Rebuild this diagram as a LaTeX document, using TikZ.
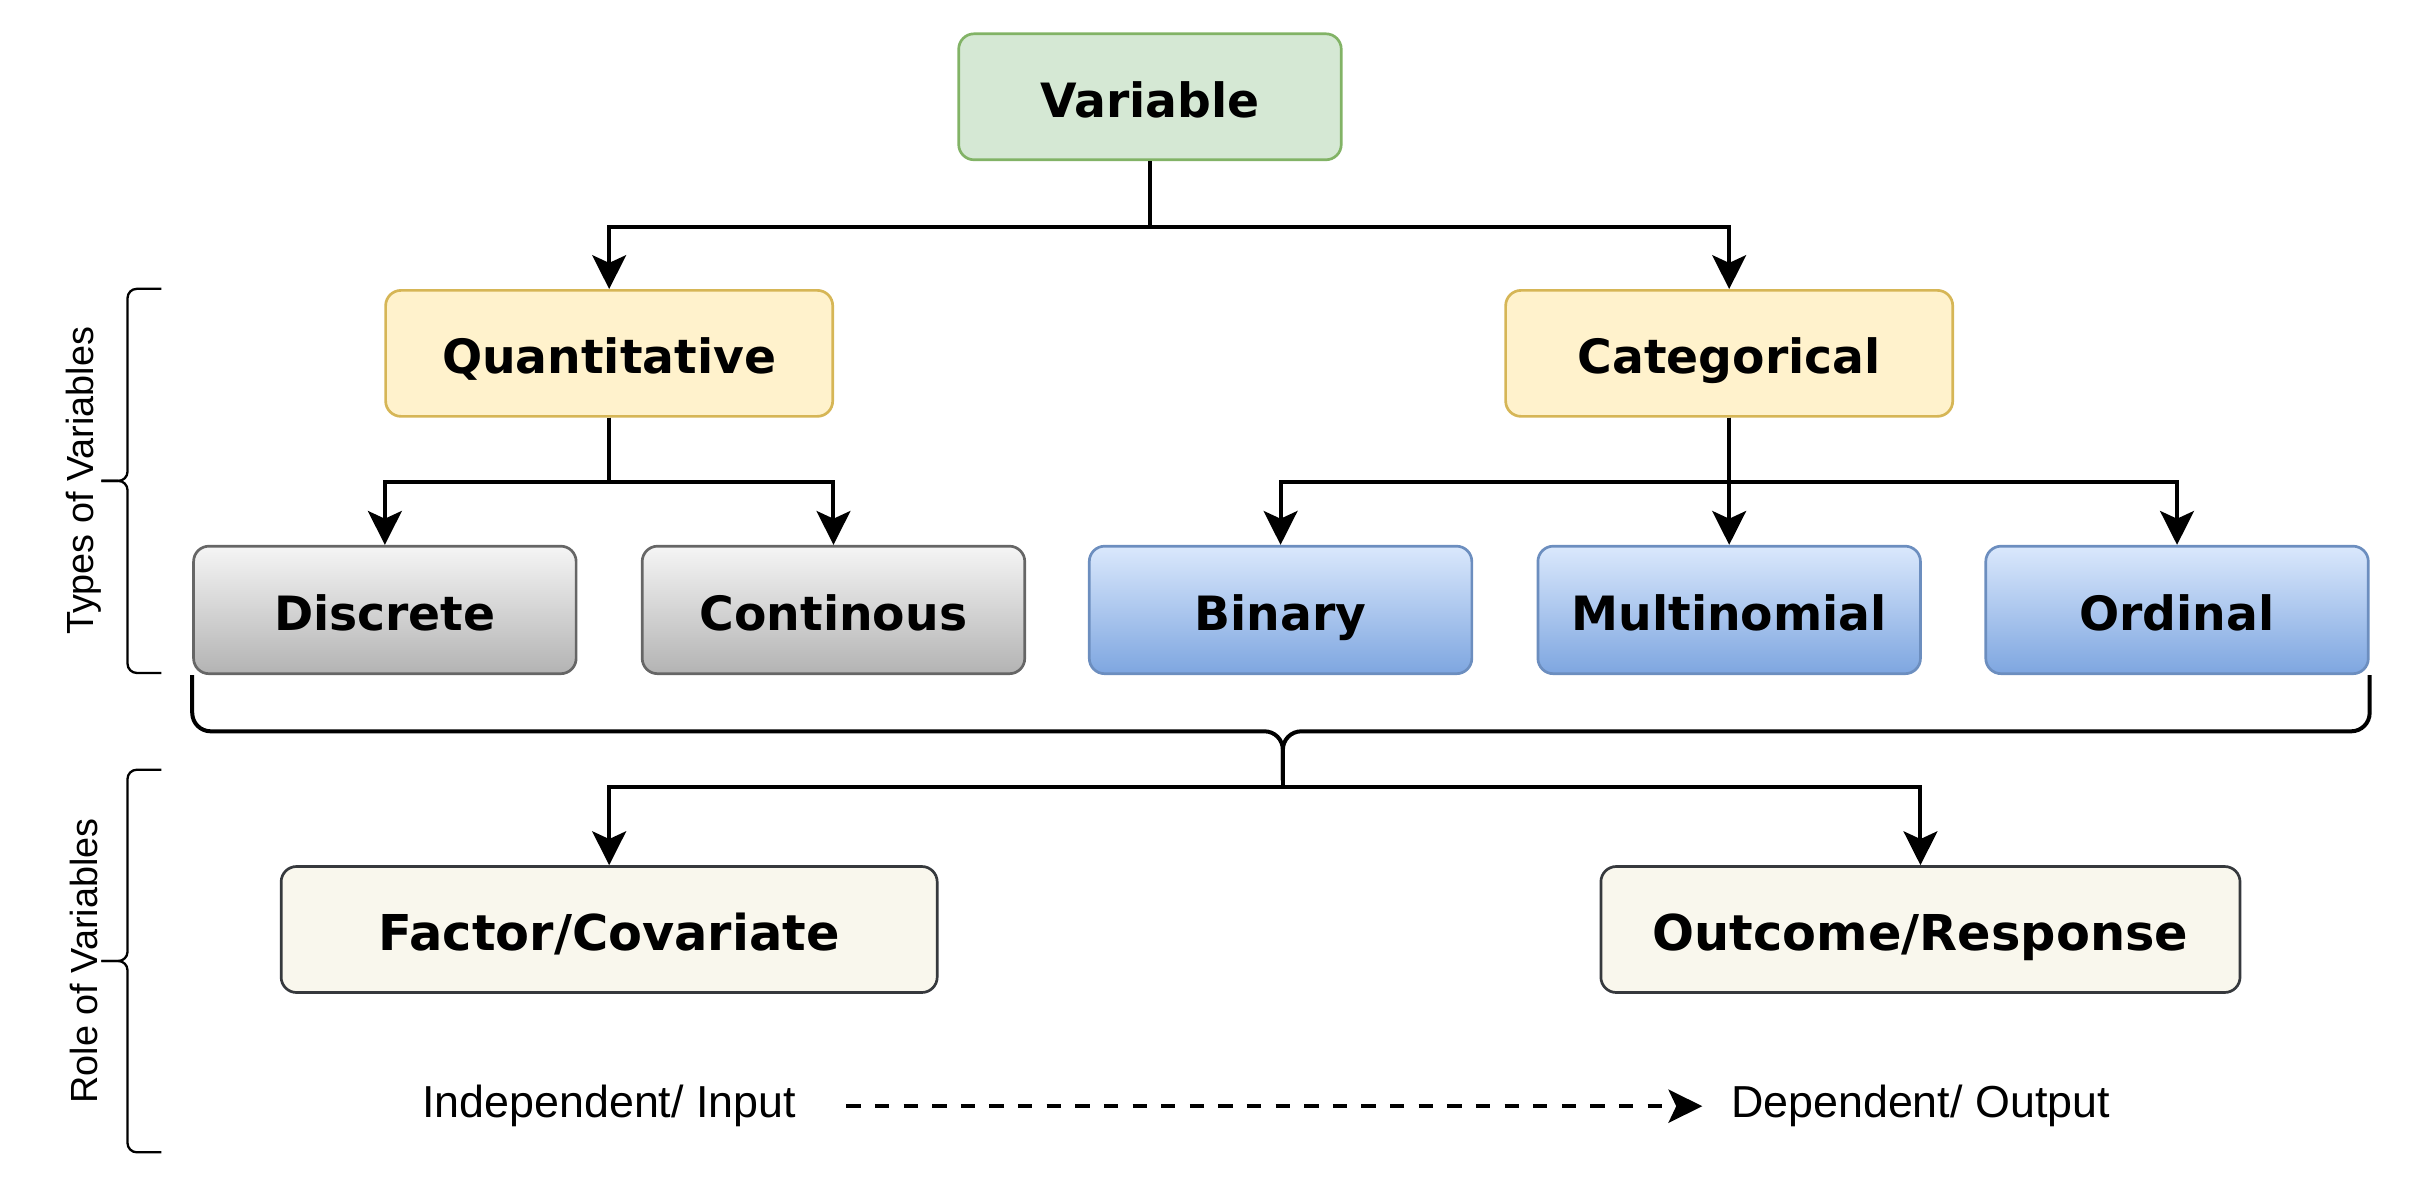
\documentclass[tikz,border=0pt]{standalone}
\usepackage{fontspec}
\setmainfont{Liberation Sans}
\newfontfamily\boxfont{DejaVu Sans}
\usepackage{tikz}
\usetikzlibrary{arrows.meta,positioning}

\definecolor{varfill}{HTML}{D5E8D4}
\definecolor{varline}{HTML}{82B366}
\definecolor{typefill}{HTML}{FFF2CC}
\definecolor{typeline}{HTML}{D6B656}
\definecolor{graytop}{HTML}{F5F5F5}
\definecolor{graybot}{HTML}{B3B3B3}
\definecolor{grayline}{HTML}{666666}
\definecolor{bluetop}{HTML}{DAE8FC}
\definecolor{bluebot}{HTML}{7EA6E0}
\definecolor{blueline}{HTML}{6C8EBF}
\definecolor{rolefill}{HTML}{F9F7ED}
\definecolor{roleline}{HTML}{36393D}

\tikzset{
  box/.style={rectangle, rounded corners=0.2cm, draw, line width=0.035cm, minimum height=1.64cm,
    text height=0.6cm, text depth=0.07cm,
    font=\boxfont\bfseries\fontsize{17.5}{21}\selectfont},
  topbox/.style={box, fill=varfill, draw=varline, minimum width=4.98cm},
  typebox/.style={box, fill=typefill, draw=typeline, minimum width=5.82cm},
  numbox/.style={box, top color=graytop, bottom color=graybot, draw=grayline, minimum width=4.98cm, minimum height=1.66cm},
  catbox/.style={box, top color=bluetop, bottom color=bluebot, draw=blueline, minimum width=4.98cm, minimum height=1.66cm},
  rolebox/.style={box, fill=rolefill, draw=roleline, text height=0.62cm, text depth=0.07cm,
    font=\boxfont\bfseries\fontsize{18.3}{22}\selectfont},
  arr/.style={-{Stealth[length=0.44cm, width=0.44cm, inset=0.1cm]}, line width=0.052cm},
  dasharr/.style={-{Stealth[length=0.44cm, width=0.43cm, inset=0.1cm]}, line width=0.052cm, dash pattern=on 5.3pt off 5.3pt},
  bigbrace/.style={line width=0.052cm, rounded corners=0.24cm},
  sidebrace/.style={line width=0.03cm, rounded corners=0.12cm},
  sidelabel/.style={rotate=90, font=\fontsize{14}{17}\selectfont},
  flowlabel/.style={font=\fontsize{16.6}{20}\selectfont}
}

\begin{document}
\begin{tikzpicture}[node distance=3.34cm]
    \useasboundingbox (0,0) rectangle (31.36,-15.452);

    \node (variable) [topbox] at (14.97,-1.26) {Variable};
    \node (quant) [typebox, below of=variable, xshift=-7.04cm] {Quantitative};
    \node (cat) [typebox, below of=variable, xshift=7.54cm] {Categorical};

    \node (disc) [numbox, below of=quant, xshift=-2.92cm] {Discrete};
    \node (cont) [numbox, below of=quant, xshift=2.92cm] {Continous};

    \node (binary) [catbox, below of=cat, xshift=-5.84cm] {Binary};
    \node (multi) [catbox, below of=cat] {Multinomial};
    \node (ordinal) [catbox, below of=cat, xshift=5.83cm] {Ordinal};

    \node (factor) [rolebox, minimum width=8.54cm, below of=quant, node distance=7.5cm] {Factor/Covariate};
    \node (outcome) [rolebox, minimum width=8.32cm, below of=cat, node distance=7.5cm, xshift=2.49cm] {Outcome/Response};

    \node (indep) [flowlabel, below of=factor, node distance=2.3cm] {Independent/ Input};
    \node (dep) [flowlabel, below of=outcome, node distance=2.3cm] {Dependent/ Output};

    \draw [arr] (variable.south) -- ++(0,-0.86) -| (quant);
    \draw [arr] (variable.south) -- ++(0,-0.86) -| (cat);

    \draw [arr] (quant.south) -- ++(0,-0.84) -| (disc);
    \draw [arr] (quant.south) -- ++(0,-0.84) -| (cont);

    \draw [arr] (cat.south) -- ++(0,-0.84) -| (binary);
    \draw [arr] (cat) -- (multi);
    \draw [arr] (cat.south) -- ++(0,-0.84) -| (ordinal);

    % brace under the five types
    \coordinate (bmid) at (16.70,-9.52);
    \coordinate (btip) at (16.70,-10.16);
    \draw [bigbrace] (disc.south west) |- (bmid) -- (btip);
    \draw [bigbrace] (ordinal.south east) |- (bmid) -- (btip);

    \draw [arr] (btip) -- ++(0,-0.08) -| (factor);
    \draw [arr] (btip) -- ++(0,-0.08) -| (outcome);

    % side braces
    \coordinate (typestip) at (1.32,-6.26);
    \coordinate (roletip) at (1.32,-12.51);
    \draw [sidebrace] (2.10,-3.76) -- (1.66,-3.76) -- (1.66,-6.26) -- (typestip);
    \draw [sidebrace] (2.10,-8.76) -- (1.66,-8.76) -- (1.66,-6.26) -- (typestip);
    \draw [sidebrace] (2.10,-10.02) -- (1.66,-10.02) -- (1.66,-12.51) -- (roletip);
    \draw [sidebrace] (2.10,-15.00) -- (1.66,-15.00) -- (1.66,-12.51) -- (roletip);

    \node (types) [sidelabel] at (1.09,-6.26) {Types of Variables};
    \node (role) [sidelabel] at (1.09,-12.51) {Role of Variables};

    \draw [dasharr, shorten <=0.53cm, shorten >=0.25cm] (indep) -- (dep);
\end{tikzpicture}
\end{document}
